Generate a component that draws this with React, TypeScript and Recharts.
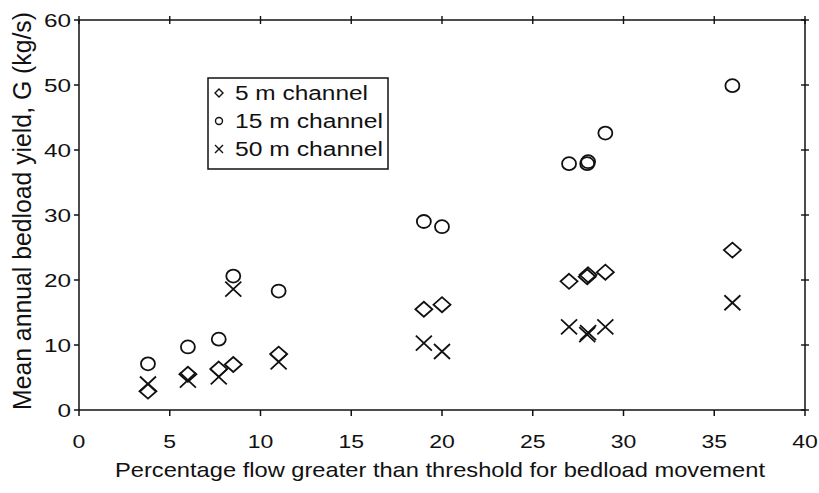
import React from "react"
import { ScatterChart, Scatter, XAxis, YAxis, Legend, Label } from "recharts"

// ── data ────────────────────────────────────────────
const flowPct = [3.8, 6.0, 7.7, 8.5, 11.0, 19, 20, 27, 28, 28.05, 29, 36]
const yield5m = [2.9, 5.5, 6.3, 7.0, 8.6, 15.5, 16.2, 19.8, 20.5, 20.8, 21.2, 24.6]
const yield15m = [7.1, 9.7, 10.9, 20.6, 18.3, 29.0, 28.2, 37.9, 37.9, 38.2, 42.6, 49.9]
const yield50m = [4.0, 4.6, 5.1, 18.6, 7.4, 10.3, 9.0, 12.8, 11.6, 11.9, 12.8, 16.5]

const xTicks = [0, 5, 10, 15, 20, 25, 30, 35, 40]
const yTicks = [0, 10, 20, 30, 40, 50, 60]

const seriesNames = ["5 m channel", "15 m channel", "50 m channel"]

const toPoints = (ys: number[]) => flowPct.map((x, i) => ({ x, y: ys[i] }))

const FONT = "'Liberation Sans', Arial, Helvetica, sans-serif"
const INK = "#111"
const MARK_W = 1.8

// ── marker shapes ──────────────────────────────────
function Diamond(p: any) {
  const { cx, cy } = p
  return (
    <path
      d={`M${cx},${cy - 7.5}L${cx + 8.5},${cy}L${cx},${cy + 7.5}L${cx - 8.5},${cy}Z`}
      fill="none"
      stroke={INK}
      strokeWidth={MARK_W}
    />
  )
}

function Ring(p: any) {
  const { cx, cy } = p
  return <ellipse cx={cx} cy={cy} rx={7} ry={6.5} fill="none" stroke={INK} strokeWidth={MARK_W} />
}

function Cross(p: any) {
  const { cx, cy } = p
  return (
    <path
      d={`M${cx - 8},${cy - 7.5}L${cx + 8},${cy + 7.5}M${cx - 8},${cy + 7.5}L${cx + 8},${cy - 7.5}`}
      fill="none"
      stroke={INK}
      strokeWidth={MARK_W}
    />
  )
}

// ── ticks ──────────────────────────────────────────
function LeftTick({ x, y, payload }: any) {
  return (
    <text
      transform={`translate(${x},${y + 7}) scale(1.28,1)`}
      textAnchor="end"
      fontSize={19}
      fontFamily={FONT}
      fill={INK}
    >
      {payload.value}
    </text>
  )
}

function BottomTick({ x, y, payload }: any) {
  return (
    <text
      transform={`translate(${x},${y + 32}) scale(1.28,1)`}
      textAnchor="middle"
      fontSize={18}
      fontFamily={FONT}
      fill={INK}
    >
      {payload.value}
    </text>
  )
}

// frame ticks that cross the top and right edges
function CrossTickH({ x, y }: any) {
  return <line x1={x} x2={x} y1={y - 4} y2={y + 4} stroke={INK} strokeWidth={1.4} />
}

function CrossTickV({ x, y }: any) {
  return <line x1={x - 4} x2={x + 4} y1={y} y2={y} stroke={INK} strokeWidth={1.4} />
}

// ── legend ─────────────────────────────────────────
function LegendBox() {
  const rows = [
    { name: seriesNames[0], len: 133, mark: "diamond" },
    { name: seriesNames[1], len: 148, mark: "ring" },
    { name: seriesNames[2], len: 148, mark: "cross" },
  ]
  return (
    <svg width={182} height={94} style={{ display: "block" }}>
      <rect x={1} y={1} width={180} height={91} fill="#fff" stroke={INK} strokeWidth={1.5} />
      {rows.map((r, i) => {
        const cy = 16 + i * 28
        return (
          <g key={r.name}>
            {r.mark === "diamond" && (
              <path d={`M12,${cy - 4}L16,${cy}L12,${cy + 4}L8,${cy}Z`} fill="none" stroke={INK} strokeWidth={1.4} />
            )}
            {r.mark === "ring" && <circle cx={12} cy={cy} r={3.5} fill="none" stroke={INK} strokeWidth={1.4} />}
            {r.mark === "cross" && (
              <path d={`M8,${cy - 4}L16,${cy + 4}M8,${cy + 4}L16,${cy - 4}`} fill="none" stroke={INK} strokeWidth={1.4} />
            )}
            <text
              x={28}
              y={cy + 7}
              fontSize={20}
              fontFamily={FONT}
              fill={INK}
              textLength={r.len}
              lengthAdjust="spacingAndGlyphs"
            >
              {r.name}
            </text>
          </g>
        )
      })}
    </svg>
  )
}

export default function App() {
  return (
    <div style={{ position: "absolute", left: 0, top: 0, width: 819, height: 493, background: "#fff" }}>
      <ScatterChart width={819} height={493} margin={{ top: 19, right: 13, bottom: 0, left: 0 }}>
        <XAxis
          xAxisId="bottom"
          dataKey="x"
          type="number"
          domain={[0, 40]}
          ticks={xTicks}
          height={83}
          stroke={INK}
          strokeWidth={1.5}
          tickSize={6}
          tickMargin={0}
          tick={<BottomTick />}
        >
          <Label
            content={({ viewBox }: any) => (
              <text
                x={viewBox.x + viewBox.width / 2 - 2}
                y={viewBox.y + 67}
                textAnchor="middle"
                fontSize={21}
                fontFamily={FONT}
                fill={INK}
                textLength={650}
                lengthAdjust="spacingAndGlyphs"
              >
                Percentage flow greater than threshold for bedload movement
              </text>
            )}
          />
        </XAxis>
        <XAxis
          xAxisId="top"
          dataKey="x"
          orientation="top"
          type="number"
          domain={[0, 40]}
          ticks={xTicks}
          height={1}
          stroke={INK}
          strokeWidth={1.5}
          tickSize={0}
          tickMargin={0}
          tickLine={false}
          tick={<CrossTickH />}
        />
        <YAxis
          yAxisId="left"
          dataKey="y"
          type="number"
          domain={[0, 60]}
          ticks={yTicks}
          width={79}
          stroke={INK}
          strokeWidth={1.5}
          tickSize={5}
          tickMargin={3}
          tick={<LeftTick />}
        >
          <Label
            content={({ viewBox }: any) => (
              <text
                transform={`translate(31,${viewBox.y + viewBox.height / 2 - 4}) rotate(-90)`}
                textAnchor="middle"
                fontSize={25}
                fontFamily={FONT}
                fill={INK}
                textLength={398}
                lengthAdjust="spacingAndGlyphs"
              >
                Mean annual bedload yield, G (kg/s)
              </text>
            )}
          />
        </YAxis>
        <YAxis
          yAxisId="right"
          dataKey="y"
          orientation="right"
          type="number"
          domain={[0, 60]}
          ticks={yTicks}
          width={1}
          stroke={INK}
          strokeWidth={1.5}
          tickSize={0}
          tickMargin={0}
          tickLine={false}
          tick={<CrossTickV />}
        />
        <Legend
          layout="vertical"
          align="center"
          verticalAlign="middle"
          wrapperStyle={{ left: 207, top: 77, width: 182, height: 94 }}
          content={() => <LegendBox />}
        />
        {/* all four axes share the same domains, so any pairing gives the same positions */}
        <Scatter
          name={seriesNames[0]}
          data={toPoints(yield5m)}
          xAxisId="bottom"
          yAxisId="left"
          shape={<Diamond />}
          isAnimationActive={false}
        />
        <Scatter
          name={seriesNames[1]}
          data={toPoints(yield15m)}
          xAxisId="top"
          yAxisId="right"
          shape={<Ring />}
          isAnimationActive={false}
        />
        <Scatter
          name={seriesNames[2]}
          data={toPoints(yield50m)}
          xAxisId="bottom"
          yAxisId="left"
          shape={<Cross />}
          isAnimationActive={false}
        />
      </ScatterChart>
    </div>
  )
}
